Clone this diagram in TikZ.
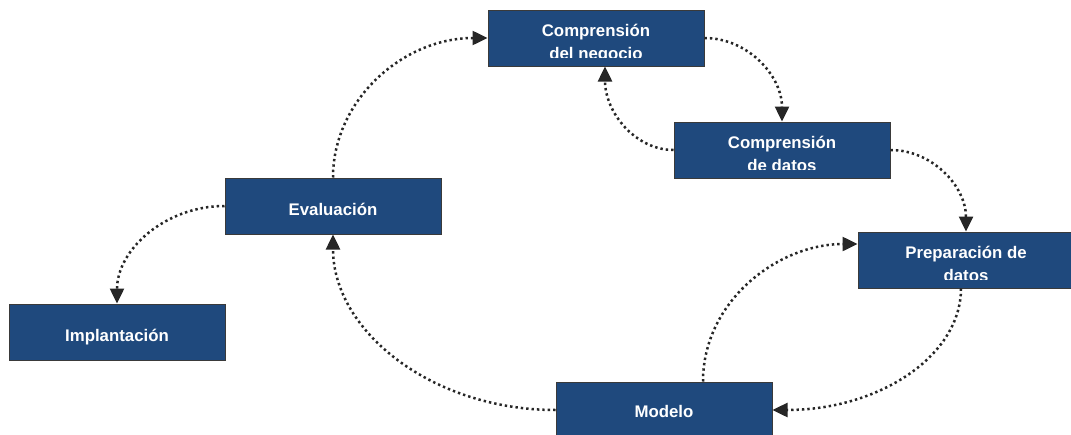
\documentclass[tikz,border=0pt]{standalone}
\usepackage{fontspec}
\setmainfont{Liberation Sans}
\usetikzlibrary{arrows.meta}
\definecolor{boxblue}{HTML}{1F497D}
\definecolor{boxline}{HTML}{3A3A3A}
\definecolor{conncol}{HTML}{262626}
\tikzset{
  stagebox/.style={draw=boxline, line width=1pt, fill=boxblue, minimum width=216pt, minimum height=56pt, inner sep=0pt},
  stagetext/.style={text=white, font=\fontsize{16.8}{22}\selectfont\bfseries, inner sep=0pt, anchor=base},
  conn/.style={draw=conncol, line width=2.5pt, dash pattern=on 2.4pt off 3pt, -{Triangle[length=15pt,width=14pt]}}
}
\begin{document}
\begin{tikzpicture}[x=1pt,y=-1pt]
\fill[white] (0,0) rectangle (1071,434);
\useasboundingbox (0,0) rectangle (1071,434);
\clip (0,0) rectangle (1071,434);
% boxes
\node[stagebox] (neg) at (596,38) {};
\node[stagebox] (dat) at (782,150) {};
\node[stagebox] (prep) at (966,260) {};
\node[stagebox] (mod) at (664,410) {};
\node[stagebox] (eva) at (333,206) {};
\node[stagebox] (imp) at (117,332) {};
% texts
\begin{scope}
  \clip ([yshift=9.5pt]neg.south west) rectangle (neg.north east);
  \node[stagetext] (negt1) at ([yshift=-27.3pt]neg.north) {Comprensión};
  \node[stagetext] (negt2) at ([yshift=-49.5pt]neg.north) {del negocio};
\end{scope}
\begin{scope}
  \clip ([yshift=9.5pt]dat.south west) rectangle (dat.north east);
  \node[stagetext] (datt1) at ([yshift=-27.3pt]dat.north) {Comprensión};
  \node[stagetext] (datt2) at ([yshift=-49.5pt]dat.north) {de datos};
\end{scope}
\begin{scope}
  \clip ([yshift=9.5pt]prep.south west) rectangle (prep.north east);
  \node[stagetext] (prept1) at ([yshift=-27.3pt]prep.north) {Preparación de};
  \node[stagetext] (prept2) at ([yshift=-49.5pt]prep.north) {datos};
\end{scope}
\node[stagetext] (modt) at ([yshift=-7pt]mod.center) {Modelo};
\node[stagetext] (evat) at ([yshift=-9pt]eva.center) {Evaluación};
\node[stagetext] (impt) at ([yshift=-9pt]imp.center) {Implantación};
% connectors
\draw[conn] (eva.north) .. controls +(0,-77) and +(-85,0) .. (neg.west);
\draw[conn] (neg.east) .. controls +(43,0) and +(0,-46) .. (dat.north);
\draw[conn] (dat.west) .. controls +(-38,0) and +(0,46) .. ([xshift=9pt]neg.south);
\draw[conn] (dat.east) .. controls +(42,0) and +(0,-45) .. (prep.north);
\draw[conn] ([xshift=-5pt]prep.south) .. controls +(0,67) and +(107,0) .. (mod.east);
\draw[conn] ([xshift=39pt]mod.north) .. controls +(0,-80) and +(-80,0) .. ([yshift=16pt]prep.west);
\draw[conn] (mod.west) .. controls +(-123,0) and +(0,97) .. (eva.south);
\draw[conn] (eva.west) .. controls +(-59,0) and +(0,-54) .. (imp.north);
\end{tikzpicture}
\end{document}
